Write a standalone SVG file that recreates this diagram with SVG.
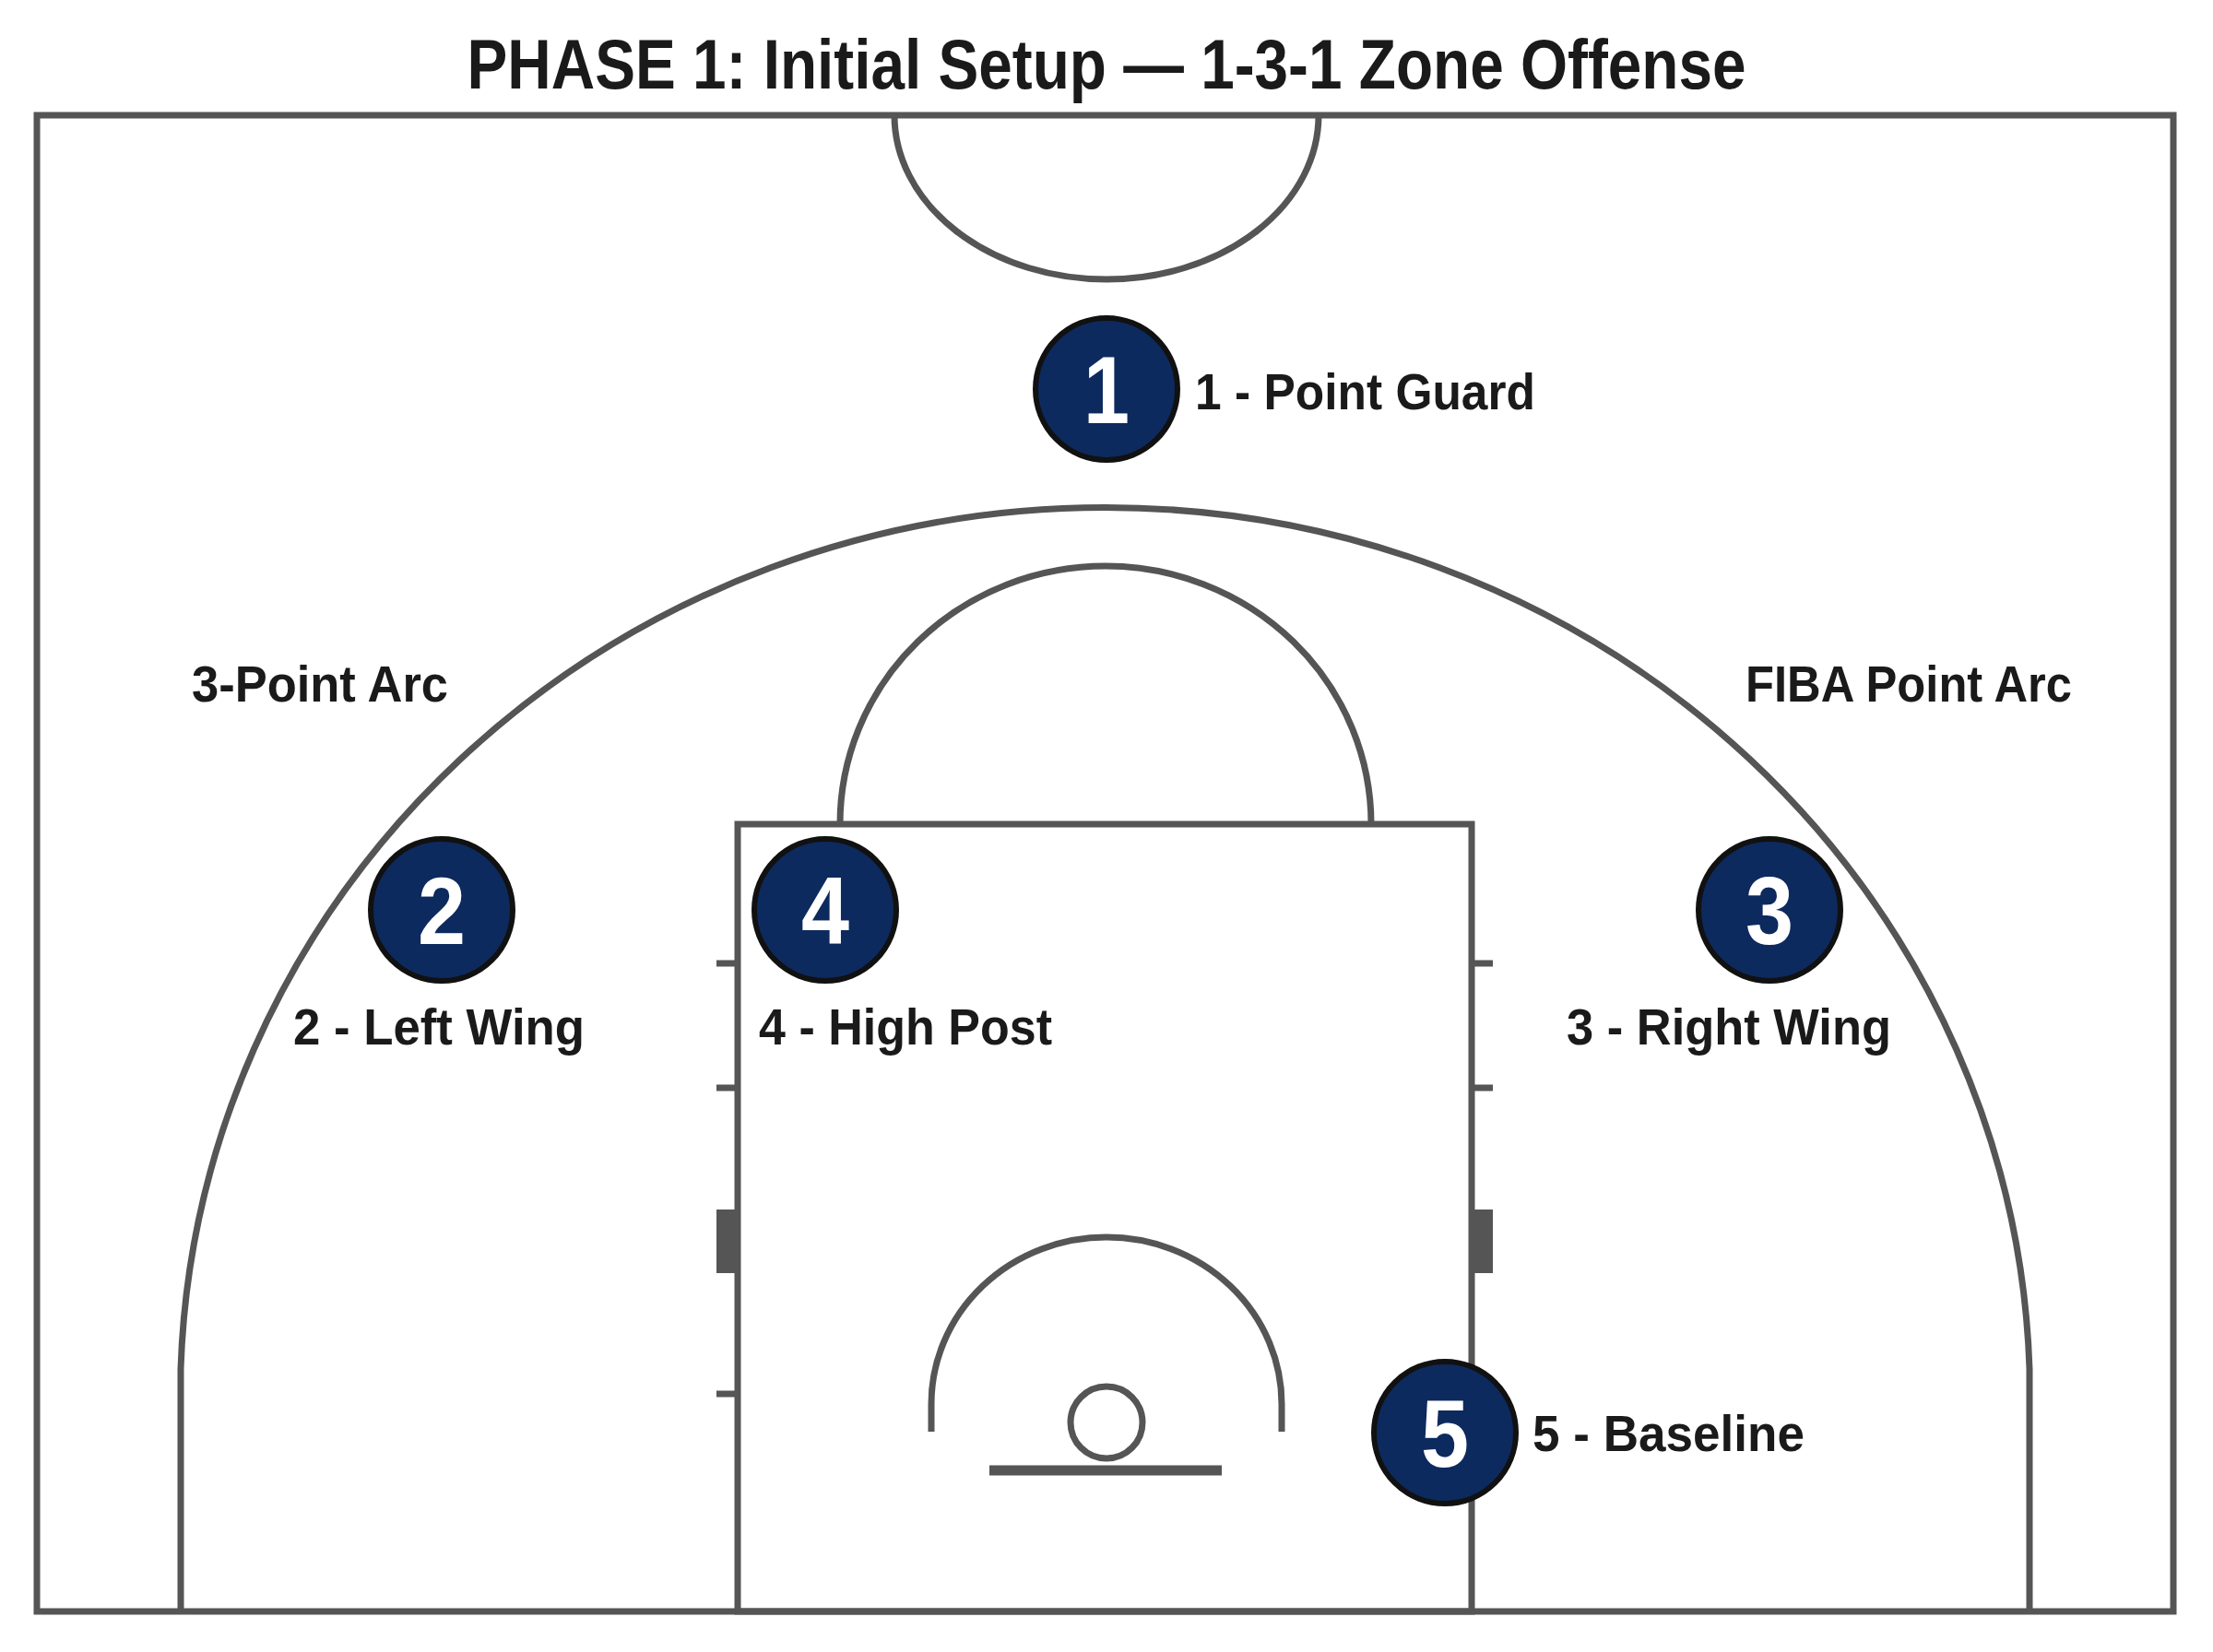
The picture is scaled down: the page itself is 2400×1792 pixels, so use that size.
<svg xmlns="http://www.w3.org/2000/svg" width="2400" height="1792" viewBox="0 0 2400 1792">
<style>
.ln{fill:none;stroke:#555;stroke-width:7}
.pl circle{fill:#0d2a5e;stroke:#111;stroke-width:6}
.num{font-family:"Liberation Sans",Arial,sans-serif;font-weight:bold;font-size:104px;fill:#fff;text-anchor:middle}
.lbl{font-family:"Liberation Sans",Arial,sans-serif;font-weight:bold;font-size:56px;fill:#1a1a1a}
.ttl{font-family:"Liberation Sans",Arial,sans-serif;font-weight:bold;font-size:76px;fill:#1a1a1a;text-anchor:middle}
</style>
<rect width="2400" height="1792" fill="#fff"/>
<text class="ttl" x="1200" y="96" textLength="1387" lengthAdjust="spacingAndGlyphs">PHASE 1: Initial Setup — 1-3-1 Zone Offense</text>
<g id="court">
<rect class="ln" x="40" y="125" width="2317" height="1623"/>
<path class="ln" d="M970 125 A230 178 0 0 0 1430 125"/>
<path class="ln" d="M196 1748 V1485 A1003 965 0 0 1 2201 1485 V1748"/>
<rect class="ln" x="800" y="894" width="796" height="854"/>
<path class="ln" d="M911 894 A288 280 0 0 1 1487 894"/>
<path class="ln" d="M777 1045H800M777 1180H800M777 1512H800M1596 1045H1619M1596 1180H1619M1596 1512H1619"/>
<rect x="777" y="1312" width="23" height="69" fill="#555"/>
<rect x="1596" y="1312" width="23" height="69" fill="#555"/>
<path class="ln" d="M1010 1553 V1523 A190 181 0 0 1 1390 1523 V1553"/>
<circle class="ln" cx="1200" cy="1543" r="39"/>
<line x1="1073" y1="1595" x2="1325" y2="1595" stroke="#555" stroke-width="11"/>
<text class="lbl" x="208" y="761" textLength="278" lengthAdjust="spacingAndGlyphs">3-Point Arc</text>
<text class="lbl" x="2247" y="761" text-anchor="end" textLength="354" lengthAdjust="spacingAndGlyphs">FIBA Point Arc</text>
</g>
<g id="p1" class="pl"><circle cx="1200" cy="422" r="77"/><text class="num" x="1200" y="459" textLength="50" lengthAdjust="spacingAndGlyphs">1</text><text class="lbl" x="1296" y="444" textLength="369" lengthAdjust="spacingAndGlyphs">1 - Point Guard</text></g>
<g id="p2" class="pl"><circle cx="479" cy="987" r="77"/><text class="num" x="479" y="1024" textLength="52" lengthAdjust="spacingAndGlyphs">2</text><text class="lbl" x="476" y="1133" text-anchor="middle" textLength="316" lengthAdjust="spacingAndGlyphs">2 - Left Wing</text></g>
<g id="p4" class="pl"><circle cx="895" cy="987" r="77"/><text class="num" x="895" y="1024" textLength="52" lengthAdjust="spacingAndGlyphs">4</text><text class="lbl" x="823" y="1133" textLength="318" lengthAdjust="spacingAndGlyphs">4 - High Post</text></g>
<g id="p3" class="pl"><circle cx="1919" cy="987" r="77"/><text class="num" x="1919" y="1024" textLength="52" lengthAdjust="spacingAndGlyphs">3</text><text class="lbl" x="1875" y="1133" text-anchor="middle" textLength="352" lengthAdjust="spacingAndGlyphs">3 - Right Wing</text></g>
<g id="p5" class="pl"><circle cx="1567" cy="1554" r="77"/><text class="num" x="1567" y="1591" textLength="52" lengthAdjust="spacingAndGlyphs">5</text><text class="lbl" x="1662" y="1574" textLength="295" lengthAdjust="spacingAndGlyphs">5 - Baseline</text></g>
<g id="connectors"/>
</svg>
